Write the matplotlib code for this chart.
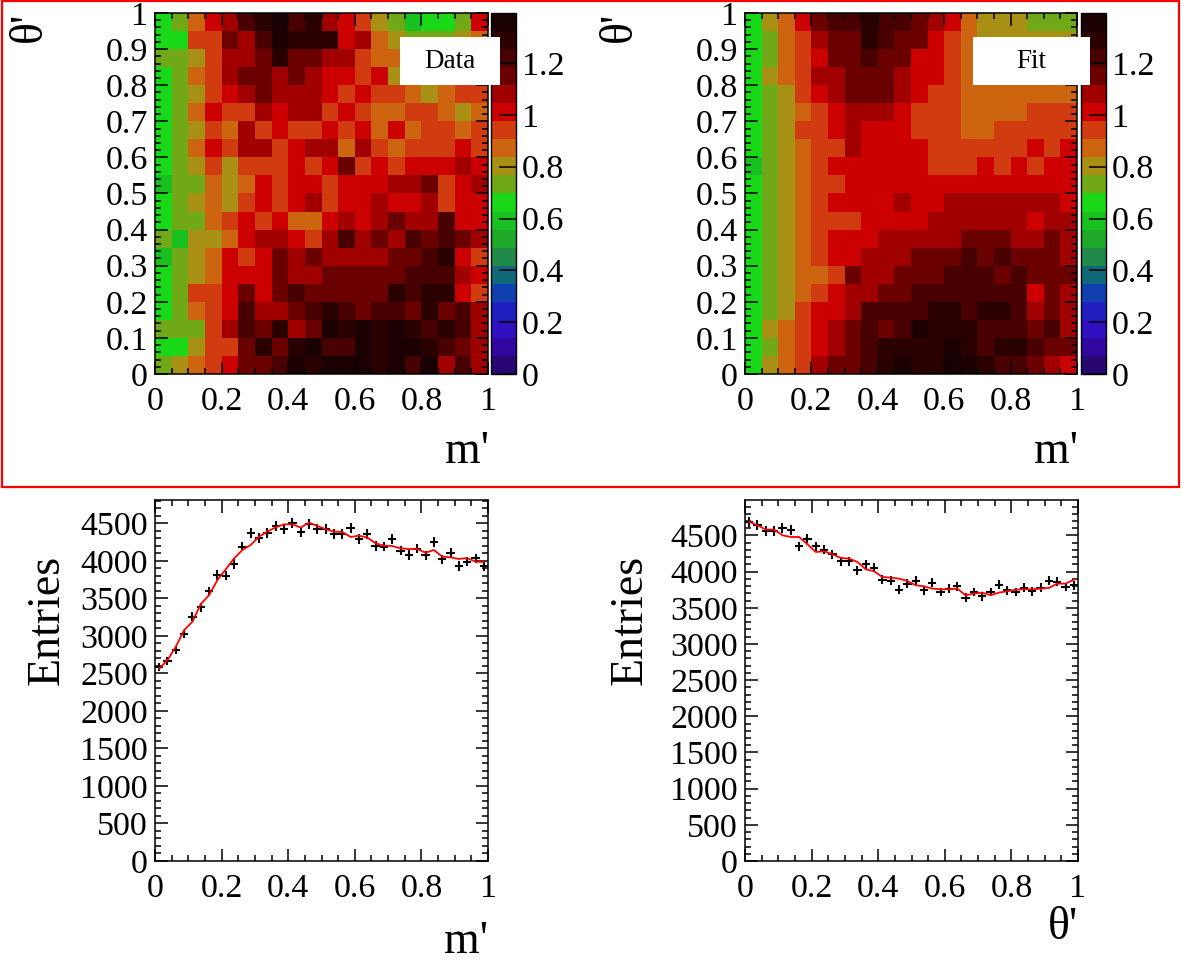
import numpy as np
import matplotlib; matplotlib.use("Agg")
import matplotlib.pyplot as plt
from matplotlib.colors import ListedColormap, BoundaryNorm
from matplotlib.patches import Rectangle
from matplotlib.ticker import MultipleLocator, FormatStrFormatter

plt.rcParams['font.family'] = ['Liberation Serif', 'DejaVu Serif']

W, H = 1182, 975

# colour levels of the z axis (bottom -> top)
PALETTE = ["#280870", "#3008a0", "#3010c0", "#2020c0", "#1040b0",
           "#106878", "#208848", "#20a828", "#18c020", "#18d818",
           "#70a818", "#a89014", "#cc6410", "#d03c10", "#cc0000",
           "#a00000", "#6a0000", "#480000", "#2a0000", "#1a0000"]
ZMAX = 1.393

# 2D ratio maps, rows listed from top (theta' = 0.95) to bottom (theta' = 0.025)
DATA_MAP = [
    [.66, .73, .87, 1.01, 1.08, 1.22, 1.29, 1.36, 1.22, 1.29, 1.08, 1.01, .94, .80, .73, .59, .66, .66, .73, 1.01],
    [.66, .66, .94, .94, 1.15, 1.08, 1.22, 1.36, 1.29, 1.29, 1.29, 1.01, 1.08, .87, .80, .73, .73, .73, .80, .87],
    [.73, .73, .80, .94, 1.08, 1.08, 1.15, 1.29, 1.15, 1.15, 1.08, 1.08, .94, .87, .87, .87, .87, .87, .80, .94],
    [.66, .73, .87, .94, 1.08, 1.15, 1.15, 1.08, 1.15, 1.08, 1.01, 1.01, .94, 1.01, .80, .80, .73, .80, .87, .94],
    [.66, .73, .80, .94, 1.01, 1.08, 1.15, 1.08, 1.08, 1.08, 1.01, .94, 1.01, .94, .94, .87, .80, .87, .94, .94],
    [.66, .73, .87, 1.01, .94, .94, 1.08, 1.01, 1.08, 1.08, .94, 1.01, .94, .87, .87, .94, .94, .87, .80, .87],
    [.66, .73, .80, .94, .87, 1.08, .94, 1.01, .94, .94, 1.01, .94, 1.01, .87, 1.01, .87, .94, .94, .87, .94],
    [.66, .73, .87, 1.01, .94, 1.08, 1.08, .94, 1.01, 1.08, 1.08, .87, 1.08, .94, .87, .94, .94, .94, 1.01, .94],
    [.66, .73, .80, .94, .80, .94, .94, .94, 1.01, .94, 1.01, 1.15, .94, 1.01, .94, 1.01, 1.01, 1.01, 1.08, 1.01],
    [.59, .73, .73, .87, .80, .87, 1.01, .94, 1.01, 1.01, .94, 1.01, 1.01, 1.01, 1.08, 1.08, 1.15, .94, 1.01, 1.08],
    [.66, .73, .80, .87, .80, .94, 1.01, .94, 1.01, 1.08, .94, 1.01, 1.01, 1.08, 1.01, 1.01, 1.08, .94, 1.01, 1.01],
    [.66, .73, .73, .87, .94, 1.01, .94, 1.01, .87, .87, 1.01, 1.08, 1.01, 1.08, 1.15, 1.08, 1.08, 1.22, 1.01, 1.01],
    [.73, .59, .80, .80, .87, 1.01, 1.08, 1.08, 1.01, .94, 1.08, 1.22, 1.08, 1.15, 1.08, 1.22, 1.15, 1.22, 1.15, 1.08],
    [.59, .73, .80, .87, 1.01, .94, 1.01, 1.15, 1.08, 1.15, 1.08, 1.08, 1.08, 1.08, 1.15, 1.15, 1.22, 1.29, 1.01, .94],
    [.66, .73, .80, .87, 1.01, 1.01, 1.01, 1.15, 1.08, 1.08, 1.15, 1.15, 1.15, 1.15, 1.15, 1.22, 1.22, 1.22, 1.08, 1.01],
    [.66, .73, .94, .94, 1.01, 1.15, 1.01, 1.15, 1.22, 1.15, 1.15, 1.15, 1.15, 1.15, 1.29, 1.22, 1.29, 1.29, 1.01, .94],
    [.66, .73, .87, .94, 1.01, 1.22, 1.08, 1.08, 1.15, 1.22, 1.29, 1.22, 1.15, 1.22, 1.22, 1.15, 1.29, 1.15, 1.22, 1.08],
    [.73, .73, .73, .94, 1.08, 1.22, 1.15, 1.29, 1.08, 1.15, 1.36, 1.29, 1.36, 1.29, 1.36, 1.29, 1.22, 1.29, 1.22, 1.08],
    [.66, .66, .80, .94, .94, 1.15, 1.29, 1.15, 1.29, 1.36, 1.22, 1.22, 1.36, 1.29, 1.36, 1.36, 1.29, 1.22, 1.15, 1.08],
    [.73, .80, .87, .94, 1.01, 1.15, 1.15, 1.22, 1.36, 1.29, 1.36, 1.36, 1.36, 1.29, 1.36, 1.22, 1.36, 1.08, 1.22, 1.08],
]

FIT_MAP = [
    [.66, .80, .87, 1.01, 1.15, 1.22, 1.22, 1.29, 1.22, 1.22, 1.15, 1.08, 1.01, .87, .80, .80, .80, .73, .73, .73],
    [.66, .73, .87, .94, 1.08, 1.15, 1.15, 1.29, 1.22, 1.15, 1.15, 1.01, .94, .87, .80, .80, .80, .80, .80, .80],
    [.66, .73, .87, .94, 1.01, 1.15, 1.15, 1.22, 1.15, 1.15, 1.01, 1.01, .94, .87, .87, .87, .87, .87, .87, .87],
    [.66, .80, .87, .94, 1.08, 1.08, 1.15, 1.15, 1.15, 1.08, 1.01, 1.01, .94, .87, .87, .87, .87, .87, .87, .87],
    [.66, .73, .80, .94, 1.01, 1.08, 1.15, 1.15, 1.15, 1.08, 1.01, .94, .94, .87, .87, .87, .87, .87, .87, .87],
    [.66, .73, .80, .87, .94, 1.01, 1.08, 1.08, 1.08, 1.01, .94, .94, .94, .87, .87, .87, .87, .94, .94, .94],
    [.66, .73, .80, .94, .94, 1.01, 1.08, 1.01, 1.01, 1.01, .94, .94, .94, .87, .87, .94, .94, .94, .94, .94],
    [.66, .73, .80, .87, .94, .94, 1.08, 1.01, 1.01, 1.01, 1.01, .94, .94, .94, .94, .94, .94, 1.01, .94, 1.01],
    [.59, .73, .80, .87, .94, 1.01, 1.01, 1.01, 1.01, 1.01, 1.01, .94, .94, .94, 1.01, .94, 1.01, .94, 1.01, 1.01],
    [.66, .73, .80, .87, .94, .94, 1.01, 1.01, 1.01, 1.01, 1.01, 1.01, 1.01, 1.01, 1.01, 1.01, 1.01, 1.01, 1.01, 1.01],
    [.66, .73, .80, .87, .94, 1.01, 1.01, 1.01, 1.01, 1.08, 1.01, 1.01, 1.08, 1.08, 1.08, 1.08, 1.08, 1.08, 1.08, 1.01],
    [.66, .73, .80, .87, .94, .94, .94, 1.01, 1.01, 1.01, 1.01, 1.08, 1.08, 1.08, 1.08, 1.08, 1.08, 1.01, 1.08, 1.08],
    [.66, .73, .80, .87, .94, 1.01, 1.01, 1.01, 1.08, 1.08, 1.08, 1.08, 1.08, 1.15, 1.15, 1.15, 1.08, 1.08, 1.15, 1.08],
    [.66, .73, .80, .87, .94, 1.01, 1.01, 1.08, 1.08, 1.08, 1.15, 1.15, 1.15, 1.22, 1.15, 1.22, 1.15, 1.15, 1.15, 1.08],
    [.66, .73, .80, .87, .87, .94, 1.15, 1.08, 1.08, 1.15, 1.15, 1.15, 1.22, 1.22, 1.22, 1.15, 1.22, 1.15, 1.15, 1.15],
    [.66, .73, .80, .87, .94, 1.01, 1.08, 1.08, 1.15, 1.15, 1.22, 1.22, 1.22, 1.22, 1.22, 1.22, 1.22, 1.01, 1.15, 1.08],
    [.66, .73, .80, .94, 1.01, 1.01, 1.08, 1.22, 1.22, 1.22, 1.22, 1.29, 1.29, 1.22, 1.29, 1.29, 1.22, 1.08, 1.15, 1.08],
    [.66, .80, .87, .94, 1.01, 1.08, 1.15, 1.22, 1.15, 1.22, 1.36, 1.29, 1.29, 1.29, 1.22, 1.22, 1.22, 1.15, 1.22, 1.08],
    [.66, .73, .87, .94, 1.01, 1.08, 1.15, 1.22, 1.29, 1.29, 1.29, 1.29, 1.36, 1.29, 1.22, 1.29, 1.29, 1.22, 1.15, 1.15],
    [.66, .80, .87, .94, 1.08, 1.15, 1.15, 1.22, 1.29, 1.36, 1.29, 1.29, 1.36, 1.36, 1.29, 1.22, 1.22, 1.15, 1.08, 1.01],
]

# 1D projections, 40 bins on [0, 1]
M_DATA = [2588, 2668, 2810, 3023, 3255, 3379, 3593, 3811, 3802, 3957,
          4189, 4366, 4300, 4366, 4464, 4420, 4509, 4380, 4491, 4424,
          4420, 4357, 4353, 4433, 4295, 4353, 4197, 4189, 4295, 4135,
          4077, 4162, 4073, 4246, 4020, 4100, 3931, 3988, 4033, 3931]
M_FIT = [2561, 2677, 2855, 3077, 3188, 3424, 3544, 3744, 3886, 4033,
         4144, 4211, 4322, 4389, 4446, 4486, 4486, 4442, 4509, 4464,
         4420, 4389, 4384, 4317, 4335, 4309, 4233, 4202, 4197, 4166,
         4157, 4157, 4108, 4144, 4055, 4046, 4024, 4037, 3988, 3984]
T_DATA = [4687, 4641, 4562, 4562, 4604, 4571, 4350, 4456, 4350, 4304,
          4240, 4143, 4143, 4018, 4101, 4055, 3889, 3871, 3751, 3834,
          3871, 3742, 3843, 3719, 3765, 3797, 3641, 3719, 3659, 3719,
          3820, 3742, 3719, 3779, 3728, 3779, 3871, 3857, 3788, 3811]
T_FIT = [4687, 4641, 4581, 4581, 4502, 4479, 4479, 4378, 4272, 4281,
         4240, 4189, 4180, 4134, 4032, 4005, 3926, 3917, 3903, 3871,
         3811, 3797, 3765, 3756, 3756, 3765, 3673, 3696, 3710, 3673,
         3710, 3728, 3751, 3756, 3756, 3765, 3774, 3834, 3834, 3889]
M_YMAX = 4810
T_YMAX = 4990

TICK_FS = 24.5
TITLE_FS = 33


def px_axes(fig, x0, y0, x1, y1):
    return fig.add_axes([x0 / W, 1 - y1 / H, (x1 - x0) / W, (y1 - y0) / H])


def style(ax, xmaj, xmin, ymaj, ymin):
    ax.xaxis.set_major_locator(MultipleLocator(xmaj))
    ax.xaxis.set_minor_locator(MultipleLocator(xmin))
    ax.yaxis.set_major_locator(MultipleLocator(ymaj))
    ax.yaxis.set_minor_locator(MultipleLocator(ymin))
    ax.xaxis.set_major_formatter(FormatStrFormatter('%g'))
    ax.yaxis.set_major_formatter(FormatStrFormatter('%g'))
    ax.tick_params(which='both', direction='in', top=True, right=True,
                   width=1.1, labelsize=TICK_FS, colors='black')
    ax.tick_params(which='major', length=9)
    ax.tick_params(which='minor', length=4.5)
    ax.tick_params(axis='x', pad=9)
    ax.tick_params(axis='y', pad=5)
    for s in ax.spines.values():
        s.set_linewidth(1.1)


def ftext(fig, x, y, s, **kw):
    fig.text(x / W, 1 - y / H, s, **kw)


fig = plt.figure(figsize=(W / 100, H / 100), dpi=100)
cmap = ListedColormap(PALETTE)
levels = np.linspace(0, ZMAX, len(PALETTE) + 1)
norm = BoundaryNorm(levels, cmap.N)
edges = np.linspace(0, 1, 21)

maps = [(DATA_MAP, 155, 488, 491, 516, "Data", (400, 500), 30),
        (FIT_MAP, 745, 1077, 1081, 1106, "Fit", (973, 1090), 620)]
for zmap, x0, x1, c0, c1, name, (bx0, bx1), ylx in maps:
    ax = px_axes(fig, x0, 13, x1, 374)
    z = np.array(zmap)[::-1]
    ax.pcolormesh(edges, edges, z, cmap=cmap, norm=norm)
    ax.set_xlim(0, 1)
    ax.set_ylim(0, 1)
    style(ax, 0.2, 0.05, 0.1, 0.02)
    cax = px_axes(fig, c0, 13, c1, 374)
    sm = plt.cm.ScalarMappable(norm=norm, cmap=cmap)
    cb = fig.colorbar(sm, cax=cax, ticks=np.arange(0, 1.3, 0.2))
    cb.ax.yaxis.set_major_formatter(FormatStrFormatter('%g'))
    cb.ax.tick_params(direction='in', length=12, width=1.1, labelsize=TICK_FS, pad=4)
    cb.ax.minorticks_off()
    cb.outline.set_linewidth(1.0)
    # white label box
    fig.add_artist(Rectangle((bx0 / W, 1 - 85 / H), (bx1 - bx0) / W, 48 / H,
                             transform=fig.transFigure, facecolor='white',
                             edgecolor='none', zorder=10))
    ftext(fig, (bx0 + bx1) / 2, 61, name, ha='center', va='center',
          fontsize=19.5, zorder=11)
    ftext(fig, ylx, 12, "θ'", rotation=90, ha='center', va='top', fontsize=TITLE_FS)
    ftext(fig, x1 + 1, 452, "m'", ha='right', va='center', fontsize=TITLE_FS)

bins = np.linspace(0.0125, 0.9875, 40)
projs = [(M_DATA, M_FIT, M_YMAX, 155, 488, "m'", 942, 47),
         (T_DATA, T_FIT, T_YMAX, 745, 1078, "θ'", 928, 630)]
for dat, fit, ymax, x0, x1, xl, xly, ylx in projs:
    ax = px_axes(fig, x0, 500, x1, 861)
    dat = np.array(dat)
    ax.errorbar(bins, dat, xerr=0.0125, yerr=np.sqrt(dat), fmt='none',
                ecolor='black', elinewidth=1.5, capsize=0)
    ax.plot(bins, fit, color='red', lw=1.3)
    ax.set_xlim(0, 1)
    ax.set_ylim(0, ymax)
    style(ax, 0.2, 0.05, 500, 100)
    ftext(fig, x1, xly, xl, ha='right', va='center', fontsize=TITLE_FS)
    ftext(fig, ylx, 555, "Entries", rotation=90, ha='center', va='top',
          fontsize=TITLE_FS)

fig.add_artist(Rectangle((2 / W, 1 - 487 / H), 1177 / W, 486 / H,
                         transform=fig.transFigure, fill=False,
                         edgecolor='red', lw=1.6, zorder=20))

fig.savefig("out.png", dpi=100)
